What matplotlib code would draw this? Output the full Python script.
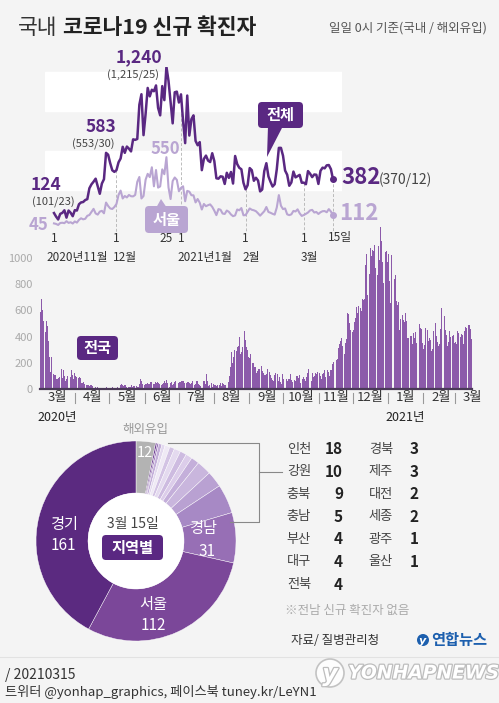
import matplotlib
matplotlib.use('Agg')
import matplotlib.pyplot as plt
import matplotlib.transforms as mtransforms
import matplotlib.patheffects as pe
from matplotlib.patches import FancyBboxPatch, Polygon, Circle
import numpy as np

plt.rcParams['font.family'] = ['Noto Sans CJK KR', 'DejaVu Sans']

W, H = 499, 703
BG = '#f4f4f4'
DARK = '#5a2882'
LIGHT = '#b9a5d2'
BAR = '#8c5aaa'

# daily new cases (0시 기준), 2020-03-01 ~ 2021-03-15
mar20 = [586, 686, 600, 516, 438, 518, 483, 367, 248, 131, 242, 114, 110, 107, 76, 74, 84, 93, 152, 87,
         147, 98, 64, 76, 100, 104, 91, 146, 105, 78, 125]
apr20 = [101, 89, 86, 94, 81, 47, 47, 53, 39, 27, 30, 32, 25, 27, 27, 22, 22, 18, 8, 13,
         9, 11, 8, 6, 10, 10, 10, 14, 9, 4]
may20 = [9, 6, 13, 8, 3, 2, 4, 12, 18, 34, 35, 27, 26, 29, 27, 19, 13, 15, 13, 32,
         12, 20, 23, 25, 16, 19, 40, 79, 58, 39, 27]
jun20 = [35, 38, 49, 39, 39, 51, 57, 38, 38, 50, 45, 56, 49, 37, 34, 37, 43, 59, 49, 67,
         48, 17, 46, 51, 28, 39, 51, 62, 42, 43]
jul20 = [51, 54, 63, 63, 61, 48, 44, 50, 50, 45, 35, 44, 62, 33, 39, 61, 60, 39, 34, 26,
         45, 63, 59, 41, 113, 58, 25, 28, 48, 18, 36]
aug20 = [31, 30, 23, 33, 34, 43, 20, 43, 36, 28, 34, 54, 56, 103, 166, 279, 197, 246, 297, 288,
         324, 332, 397, 266, 280, 320, 441, 371, 323, 299, 248]
sep20 = [235, 267, 195, 198, 168, 167, 119, 136, 156, 155, 176, 136, 121, 109, 106, 113, 153, 126, 110, 82,
         70, 61, 110, 125, 114, 61, 95, 50, 38, 113]
oct20 = [77, 63, 75, 64, 73, 75, 114, 69, 54, 72, 58, 97, 102, 84, 110, 47, 73, 91, 76, 58,
         89, 121, 155, 77, 61, 119, 88, 103, 125, 114, 127]
nov20 = [124, 97, 75, 118, 125, 145, 89, 143, 126, 100, 146, 143, 191, 205, 208, 223, 230, 313, 343, 363,
         386, 330, 271, 349, 382, 583, 569, 504, 450, 438]
dec20 = [451, 511, 540, 629, 583, 631, 615, 594, 686, 682, 689, 950, 1030, 718, 880, 1078, 1014, 1064, 1053, 1097,
         926, 869, 1092, 985, 1240, 1132, 970, 808, 1045, 1050, 967]
jan21 = [1029, 824, 657, 1020, 715, 840, 869, 674, 641, 665, 451, 537, 562, 524, 513, 580, 520, 389, 386, 404,
         401, 346, 431, 392, 437, 349, 559, 497, 469, 458, 355]
feb21 = [305, 336, 467, 451, 370, 393, 372, 289, 303, 444, 504, 403, 362, 326, 344, 457, 621, 621, 561, 448,
         416, 332, 357, 440, 396, 406, 415, 355]
mar21 = [356, 344, 444, 424, 398, 418, 416, 346, 446, 470, 465, 488, 490, 459, 382]

month_data = [mar20, apr20, may20, jun20, jul20, aug20, sep20, oct20, nov20, dec20, jan21, feb21, mar21]
month_names = ['3월', '4월', '5월', '6월', '7월', '8월', '9월', '10월', '11월', '12월', '1월', '2월', '3월']

# 서울, 2020-11-01 ~ 2021-03-15
seoul_nov = [45, 41, 33, 48, 50, 47, 62, 49, 54, 44, 60, 51, 72, 84, 76, 80, 103, 109, 132, 156,
             121, 112, 135, 141, 122, 204, 178, 159, 155, 170]
seoul_dec = [193, 262, 295, 235, 254, 243, 262, 252, 251, 262, 362, 399, 235, 254, 378, 423, 398, 473, 328, 452,
             318, 327, 457, 420, 550, 319, 231, 368, 395, 377, 290]
seoul_jan = [316, 328, 214, 293, 287, 260, 259, 205, 231, 203, 151, 193, 176, 184, 190, 171, 142, 108, 154, 149,
             120, 117, 143, 133, 113, 100, 106, 151, 145, 162, 107]
seoul_feb = [108, 134, 159, 149, 145, 138, 122, 104, 121, 138, 170, 132, 126, 118, 112, 166, 261, 180, 154, 159,
             114, 108, 114, 140, 136, 152, 122, 102]
seoul_mar = [109, 118, 128, 144, 148, 128, 132, 117, 130, 138, 139, 130, 154, 135, 112]

# top chart ticks (day index from 11/1)
top_ticks = [0, 30, 54, 61, 92, 120, 134]
top_tick_labels = ['1', '1', '25', '1', '1', '1', '15일']
top_month_ticks = [0, 30, 61, 92, 120]
top_month_labels = ['2020년11월', '12월', '2021년1월', '2월', '3월']

# 3/15 regions
pie_names = ['해외유입', '울산', '광주', '세종', '대전', '제주', '경북', '전북', '대구', '부산',
             '충남', '충북', '강원', '인천', '경남', '서울', '경기']
pie_values = [12, 1, 1, 2, 2, 3, 3, 4, 4, 4, 5, 9, 10, 18, 31, 112, 161]
pie_colors = ['#b3b3b3', '#6b3a90', '#9a76b8', '#c3aed9', '#e2d8ee', '#efe9f5', '#d3c3e4', '#e4daef',
              '#cdbbe0', '#dccdea', '#c4afda', '#c9b6dd', '#b9a1d2', '#a789c5', '#976fb5', '#7b4799', '#5b2a80']

table_left_names = ['인천', '강원', '충북', '충남', '부산', '대구', '전북']
table_left_vals = [18, 10, 9, 5, 4, 4, 4]
table_right_names = ['경북', '제주', '대전', '세종', '광주', '울산']
table_right_vals = [3, 3, 2, 2, 1, 1]


fig = plt.figure(figsize=(W / 100, H / 100), dpi=100, facecolor=BG)


def px_axes(x0, y0, x1, y1):
    return fig.add_axes([x0 / W, 1 - y1 / H, (x1 - x0) / W, (y1 - y0) / H])


# overlay in pixel coords
ax0 = fig.add_axes([0, 0, 1, 1])
ax0.set_xlim(0, W)
ax0.set_ylim(H, 0)
ax0.axis('off')
ax0.set_zorder(10)


def tag(x0, y0, x1, y1, text, color, size=11):
    ax0.add_patch(FancyBboxPatch((x0, y0), x1 - x0, y1 - y0, boxstyle='round,pad=0,rounding_size=4',
                                 fc=color, ec='none'))
    ax0.text((x0 + x1) / 2, (y0 + y1) / 2, text, color='white', fontsize=size, fontweight='bold',
             ha='center', va='center')


# title
ax0.text(18, 28, '국내', fontsize=15.5, color='#333333', va='center', ha='left')
ax0.text(63, 28, '코로나19 신규 확진자', fontsize=15.5, color='#222222', fontweight='bold', va='center', ha='left')
ax0.text(487, 28, '일일 0시 기준(국내 / 해외유입)', fontsize=9, color='#555555', va='center', ha='right')

# ---- top line chart ----
total = nov20 + dec20 + jan21 + feb21 + mar21
seoul = seoul_nov + seoul_dec + seoul_jan + seoul_feb + seoul_mar
days = np.arange(len(total))

ax_l = px_axes(45, 66.7, 342, 229.3)
ax_l.set_xlim(-4.32, 138.33)
ax_l.set_ylim(0, 1240)
ax_l.axis('off')
ax_l.axhspan(300, 600, color='white', zorder=0)
ax_l.axhspan(900, 1200, color='white', zorder=0)
for d in [30, 61, 92, 120, 134]:
    ax_l.plot([d, d], [total[d], -20], color='#bbbbbb', lw=0.7, ls=(0, (3, 2)), clip_on=False, zorder=1)
ax_l.plot(days, seoul, color=LIGHT, lw=1.5, zorder=2)
ax_l.plot(days, total, color=DARK, lw=1.8, zorder=3)
ax_l.plot(days[-1], seoul[-1], 'o', color=LIGHT, ms=4, zorder=4)
ax_l.plot(days[-1], total[-1], 'o', color=DARK, ms=4, zorder=4)

bt = mtransforms.blended_transform_factory(ax_l.transData, ax0.transData)
for d, lab in zip(top_ticks, top_tick_labels):
    if lab.endswith('일'):
        ax0.text(d - 2.5, 238, lab, transform=bt, fontsize=8.5, color='#333333', ha='left', va='center')
    else:
        ax0.text(d, 238, lab, transform=bt, fontsize=8.5, color='#333333', ha='center', va='center')
for d, lab in zip(top_month_ticks, top_month_labels):
    off = -3.4 if d == 0 else -1.5
    ax0.text(d + off, 257, lab, transform=bt, fontsize=8.5, color='#333333', ha='left', va='center')

# value labels
ax0.text(139, 57, '1,240', fontsize=12.5, fontweight='bold', color=DARK, ha='center', va='center')
ax0.text(133, 75, '(1,215/25)', fontsize=8, color='#444444', ha='center', va='center')
ax0.text(101, 127, '583', fontsize=12.5, fontweight='bold', color=DARK, ha='center', va='center')
ax0.text(93, 144, '(553/30)', fontsize=8, color='#444444', ha='center', va='center')
ax0.text(46, 185, '124', fontsize=12.5, fontweight='bold', color=DARK, ha='center', va='center')
ax0.text(53, 202, '(101/23)', fontsize=8, color='#444444', ha='center', va='center')
ax0.text(39, 225, '45', fontsize=12, fontweight='bold', color=LIGHT, ha='center', va='center')
ax0.text(165, 149, '550', fontsize=12, fontweight='bold', color=LIGHT, ha='center', va='center')
ax0.text(341, 178, '382', fontsize=16, fontweight='bold', color=DARK, ha='left', va='center')
ax0.text(379, 180, '(370/12)', fontsize=10, color='#444444', ha='left', va='center')
ax0.text(339, 213, '112', fontsize=16, fontweight='bold', color=LIGHT, ha='left', va='center')

# callouts
ax0.add_patch(Polygon([(268, 126), (283, 126), (267, 157)], closed=True, fc=DARK, ec='none'))
tag(258, 102, 303, 128, '전체', DARK)
ax0.add_patch(Polygon([(156, 208), (167, 208), (161, 199)], closed=True, fc=LIGHT, ec='none'))
tag(145, 206, 188, 233, '서울', LIGHT)

# ---- bar chart ----
vals = np.concatenate([np.array(m) for m in month_data])
lens = [len(m) for m in month_data]
starts = np.cumsum([0] + lens[:-1])

ax_b = px_axes(40, 226.6, 472, 389)
ax_b.bar(np.arange(len(vals)), vals, width=0.86, color=BAR, linewidth=0)
ax_b.set_xlim(-0.5, len(vals) - 0.5)
ax_b.set_ylim(0, 1240)
ax_b.set_facecolor('none')
for s in ax_b.spines.values():
    s.set_visible(False)
ax_b.set_xticks([])
ax_b.set_yticks(range(0, 1001, 200))
ax_b.tick_params(axis='y', length=0, pad=5, labelcolor='#aaaaaa', labelsize=8)
ax_b.axhline(0, color='#4b3a58', lw=1.6, clip_on=False)

btb = mtransforms.blended_transform_factory(ax_b.transData, ax0.transData)
for s, name in zip(starts, month_names):
    ax0.text(s + 15, 398, name, transform=btb, fontsize=9.5, color='#333333', ha='center', va='center')
for s in starts[1:]:
    ax0.plot([s - 0.5, s - 0.5], [393, 403], transform=btb, color='#999999', lw=0.8)
ax0.text(starts[0] + 15, 418, '2020년', transform=btb, fontsize=9, color='#222222', ha='center', va='center')
ax0.text(starts[10] + 15, 418, '2021년', transform=btb, fontsize=9, color='#222222', ha='center', va='center')
tag(77, 336, 118, 360, '전국', DARK)

# ---- donut ----
ax_p = px_axes(36, 441, 236, 641)
ax_p.pie(pie_values, colors=pie_colors, startangle=90, counterclock=False,
         wedgeprops=dict(width=0.52, edgecolor='white', linewidth=0.3))
ax_p.add_patch(Circle((0, 0), 0.48, fc='white', ec='none'))
ax_p.set_xlim(-1, 1)
ax_p.set_ylim(-1, 1)
ax_p.set_aspect('equal')

ax0.text(145, 430, '해외유입', fontsize=9, color='#999999', ha='center', va='center')
ax0.text(145, 453, '12', fontsize=10.5, color='white', ha='center', va='center')
ax0.text(64, 525, '경기', fontsize=11, color='white', ha='center', va='center')
ax0.text(63, 546, '161', fontsize=11, color='white', ha='center', va='center')
ax0.text(153, 605, '서울', fontsize=11, color='white', ha='center', va='center')
ax0.text(153, 626, '112', fontsize=11, color='white', ha='center', va='center')
ax0.text(203, 528, '경남', fontsize=11, color='white', ha='center', va='center')
ax0.text(207, 552, '31', fontsize=11, color='white', ha='center', va='center')
ax0.text(133, 524, '3월 15일', fontsize=10, color='#444444', ha='center', va='center')
tag(102, 535, 163, 560, '지역별', DARK)

# bracket to table
ax0.plot([168, 259, 259, 230], [443, 443, 522, 522], color='#888888', lw=0.8)
ax0.plot([259, 282], [472, 472], color='#888888', lw=0.8)

# table
for i, (n, v) in enumerate(zip(table_left_names, table_left_vals)):
    y = 449 + i * 22.6
    ax0.text(299, y, n, fontsize=9.5, color='#444444', ha='center', va='center')
    ax0.text(343, y, str(v), fontsize=11, fontweight='bold', color='#222222', ha='right', va='center')
for i, (n, v) in enumerate(zip(table_right_names, table_right_vals)):
    y = 449 + i * 22.6
    ax0.text(381, y, n, fontsize=9.5, color='#444444', ha='center', va='center')
    ax0.text(419, y, str(v), fontsize=11, fontweight='bold', color='#222222', ha='right', va='center')
ax0.text(347, 610, '※전남 신규 확진자 없음', fontsize=9, color='#aaaaaa', ha='center', va='center')

# source + logo
ax0.text(335, 640, '자료/ 질병관리청', fontsize=9, color='#333333', ha='center', va='center')
ax0.add_patch(Circle((423, 640), 6, fc='#1c5fae', ec='none'))
ax0.text(423, 640.5, 'y', fontsize=8, color='white', fontweight='bold', style='italic',
         family='DejaVu Sans', ha='center', va='center')
ax0.text(431, 640, '연합뉴스', fontsize=11, fontweight='bold', color='#1c5fae', ha='left', va='center')

ax0.plot([0, W], [657, 657], color='#e2e2e2', lw=0.8)

# footer
ax0.text(5, 675, '/ 20210315', fontsize=10, color='#333333', ha='left', va='center')
ax0.text(5, 692, '트위터 @yonhap_graphics, 페이스북 tuney.kr/LeYN1', fontsize=9.5, color='#333333',
         ha='left', va='center')

# watermark
stroke = [pe.withStroke(linewidth=1.8, foreground='#bdbdbd')]
ax0.add_patch(Circle((330, 673), 14, fc='white', ec='#bdbdbd', lw=1.2, alpha=0.9))
ax0.text(330, 674, 'y', fontsize=17, color='white', fontweight='bold', style='italic', family='DejaVu Sans',
         ha='center', va='center', path_effects=stroke)
ax0.text(348, 673, 'YONHAPNEWS', fontsize=13.5, color='white', fontweight='bold', style='italic',
         family='DejaVu Sans', ha='left', va='center', path_effects=stroke)

fig.savefig('out.png', dpi=100, facecolor=BG)
